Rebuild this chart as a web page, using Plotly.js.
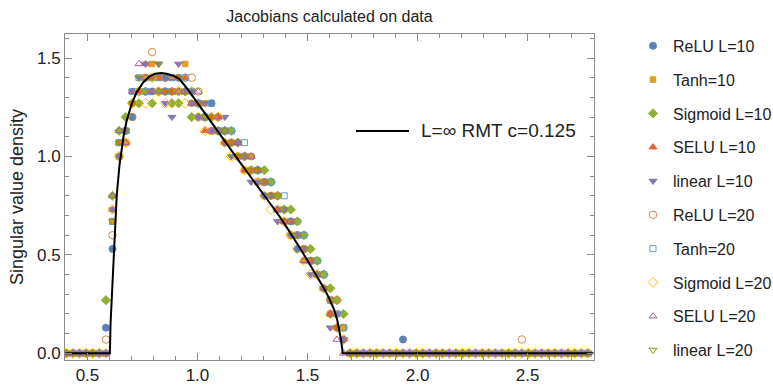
<!DOCTYPE html>
<html><head><meta charset="utf-8">
<script src="https://cdn.plot.ly/plotly-3.0.1.min.js"></script>
<style>html,body{margin:0;padding:0;background:#fff}#chart{width:773px;height:385px}</style>
</head><body><div id="chart"></div>
<script>
// bin centres (x) shared by all histogram series
const binX = [
0.404,0.434,0.464,0.494,0.524,0.554,0.584,0.614,0.644,0.674,
0.704,0.734,0.764,0.794,0.824,0.854,0.884,0.914,0.944,0.974,
1.004,1.034,1.064,1.094,1.124,1.154,1.184,1.214,1.244,1.274,
1.304,1.334,1.364,1.394,1.424,1.454,1.484,1.514,1.544,1.574,
1.604,1.634,1.664,1.694,1.724,1.754,1.784,1.814,1.844,1.874,
1.904,1.934,1.964,1.994,2.024,2.054,2.084,2.114,2.144,2.174,
2.204,2.234,2.264,2.294,2.324,2.354,2.384,2.414,2.444,2.474,
2.504,2.534,2.564,2.594,2.624,2.654,2.684,2.714,2.744,2.774];

const reluL10 = [0,0,0,0,0,0,
0.13,0.53,1,1.13,1.2,1.33,1.33,1.33,1.33,1.4,1.33,1.4,1.33,1.33,1.2,1.2,1.27,1.2,1.07,1.07,1,1,1,0.93,0.8,0.87,0.73,0.73,0.67,0.53,0.53,0.47,0.4,0.33,0.2,0.13,0.07,
0,0,0,0,0,0,0,0,0.07,0,0,0,0,0,0,0,0,0,0,0,0,0,0,0,0,0,0,0,0,0,0,0,0,0,0,0,0];
const tanhL10 = [0,0,0,0,0,0,
0,0.67,1.07,1.07,1.27,1.33,1.4,1.47,1.4,1.33,1.4,1.33,1.47,1.27,1.27,1.27,1.13,1.2,1.13,1.07,1.07,0.93,1,0.87,0.87,0.8,0.73,0.67,0.6,0.67,0.47,0.47,0.47,0.4,0.27,0.2,0.13,
0,0,0,0,0,0,0,0,0,0,0,0,0,0,0,0,0,0,0,0,0,0,0,0,0,0,0,0,0,0,0,0,0,0,0,0,0];
const sigmoidL10 = [0,0,0,0,0,0,
0.27,0.8,1.13,1.2,1.27,1.27,1.33,1.27,1.33,1.33,1.27,1.27,1.33,1.2,1.27,1.2,1.2,1.13,1.13,1.13,1.07,1,0.93,0.93,0.93,0.87,0.8,0.73,0.73,0.67,0.6,0.53,0.47,0.4,0.33,0.27,0.2,
0,0,0,0,0,0,0,0,0,0,0,0,0,0,0,0,0,0,0,0,0,0,0,0,0,0,0,0,0,0,0,0,0,0,0,0,0];
const seluL10 = [0,0,0,0,0,0,
0,0.73,1.07,1.13,1.27,1.33,1.47,1.4,1.4,1.33,1.33,1.4,1.4,1.27,1.27,1.13,1.2,1.2,1.07,1.07,1,0.93,0.93,0.93,0.87,0.8,0.73,0.67,0.67,0.6,0.53,0.47,0.4,0.33,0.2,0.13,0.07,
0,0,0,0,0,0,0,0,0,0,0,0,0,0,0,0,0,0,0,0,0,0,0,0,0,0,0,0,0,0,0,0,0,0,0,0,0];
const linearL10 = [0,0,0,0,0,0,
0,0.73,1,1.13,1.33,1.4,1.47,1.33,1.47,1.27,1.2,1.47,1.33,1.27,1.2,1.27,1.13,1.13,1.2,1,1.07,1,0.87,0.87,0.8,0.8,0.67,0.73,0.6,0.6,0.53,0.4,0.4,0.33,0.13,0.2,0.07,
0,0,0,0,0,0,0,0,0,0,0,0,0,0,0,0,0,0,0,0,0,0,0,0,0,0,0,0,0,0,0,0,0,0,0,0,0];
const reluL20 = [0,0,0,0,0,0,
0.07,0.6,1,1.07,1.2,1.33,1.4,1.53,1.33,1.4,1.33,1.33,1.4,1.4,1.33,1.2,1.13,1.13,1.13,1.07,1,1,0.93,0.87,0.87,0.8,0.8,0.67,0.6,0.6,0.53,0.47,0.4,0.4,0.27,0.27,0.13,
0,0,0,0,0,0,0,0,0,0,0,0,0,0,0,0,0,0,0,0,0,0,0,0,0,0,0.07,0,0,0,0,0,0,0,0,0,0];
const tanhL20 = [0,0,0,0,0,0,
0,0.67,1.07,1.13,1.33,1.4,1.33,1.4,1.4,1.33,1.4,1.33,1.4,1.33,1.27,1.2,1.27,1.13,1.13,1.13,1,1.07,0.93,0.93,0.87,0.87,0.73,0.8,0.67,0.6,0.6,0.47,0.47,0.4,0.27,0.2,0.13,
0,0,0,0,0,0,0,0,0,0,0,0,0,0,0,0,0,0,0,0,0,0,0,0,0,0,0,0,0,0,0,0,0,0,0,0,0];
const sigmoidL20 = [0,0,0,0,0,0,
0,0.73,1,1.07,1.27,1.33,1.27,1.4,1.33,1.27,1.27,1.33,1.27,1.33,1.2,1.13,1.2,1.2,1.07,1,1,0.93,0.93,0.87,0.8,0.73,0.73,0.67,0.6,0.53,0.47,0.4,0.4,0.33,0.2,0.13,0.07,
0,0,0,0,0,0,0,0,0,0,0,0,0,0,0,0,0,0,0,0,0,0,0,0,0,0,0,0,0,0,0,0,0,0,0,0,0];
const seluL20 = [0,0,0,0,0,0,
0,0.8,1.13,1.07,1.33,1.47,1.4,1.33,1.33,1.33,1.4,1.33,1.33,1.27,1.33,1.2,1.13,1.2,1.13,1.07,1.07,1,1,0.93,0.87,0.8,0.73,0.67,0.67,0.6,0.47,0.47,0.4,0.33,0.2,0.07,0,
0,0,0,0,0,0,0,0,0,0,0,0,0,0,0,0,0,0,0,0,0,0,0,0,0,0,0,0,0,0,0,0,0,0,0,0,0];
const linearL20 = [0,0,0,0,0,0,
0,0.67,1.07,1.13,1.27,1.4,1.33,1.4,1.47,1.33,1.33,1.4,1.33,1.33,1.27,1.2,1.2,1.13,1.13,1.07,1,1,0.93,0.93,0.87,0.8,0.8,0.73,0.67,0.6,0.53,0.47,0.4,0.33,0.27,0.13,0.07,
0,0,0,0,0,0,0,0,0,0,0,0,0,0,0,0,0,0,0,0,0,0,0,0,0,0,0,0,0,0,0,0,0,0,0,0,0];

const seriesNames = ['ReLU L=10','Tanh=10','Sigmoid L=10','SELU L=10','linear L=10',
                     'ReLU L=20','Tanh=20','Sigmoid L=20','SELU L=20','linear L=20'];
const seriesValues = [reluL10, tanhL10, sigmoidL10, seluL10, linearL10,
                      reluL20, tanhL20, sigmoidL20, seluL20, linearL20];

// L = infinity RMT curve
const rmtX = [0.4,0.602,0.605,0.61,0.617,0.625,0.633,0.645,0.655,0.665,0.678,0.69,0.701,0.724,0.754,0.78,0.807,0.835,0.86,0.89,0.917,0.95,0.98,1.01,1.04,1.07,1.1,1.13,1.16,1.19,1.22,1.25,1.28,1.31,1.34,1.37,1.4,1.43,1.46,1.49,1.52,1.55,1.58,1.6,1.62,1.635,1.645,1.652,1.657,1.66,2.8];
const rmtY = [0,0,0.15,0.27,0.47,0.64,0.8,0.95,1.04,1.11,1.18,1.23,1.267,1.327,1.377,1.405,1.42,1.424,1.42,1.41,1.394,1.35,1.305,1.258,1.21,1.163,1.115,1.067,1.02,0.975,0.93,0.885,0.84,0.795,0.75,0.7,0.65,0.6,0.545,0.49,0.435,0.38,0.32,0.275,0.225,0.17,0.117,0.07,0.03,0,0];
const rmtLabel = 'L=\u221E RMT c=0.125';

// styles
const styles = [
  {symbol:'circle', color:'#5E81B5', size:7},
  {symbol:'square', color:'#E19C24', size:5.5},
  {symbol:'diamond', color:'#8FB032', size:7},
  {symbol:'triangle-up', color:'#EB6235', size:7},
  {symbol:'triangle-down', color:'#8778B3', size:7},
  {symbol:'circle-open', color:'#D9883F', size:7.5},
  {symbol:'square-open', color:'#5D9EC7', size:6},
  {symbol:'diamond-open', color:'#FFBF00', size:7.5},
  {symbol:'triangle-up-open', color:'#A5609D', size:7},
  {symbol:'triangle-down-open', color:'#929600', size:7}
];

const traces = seriesNames.map((name, i) => ({
  type:'scatter', mode:'markers', name:name, x:binX, y:seriesValues[i],
  legendgroup:'g'+i,
  marker:{symbol:styles[i].symbol, color:styles[i].color, size:styles[i].size,
          line:{width:1, color:styles[i].color}}
}));
traces.push({type:'scatter', mode:'lines', x:rmtX, y:rmtY, name:rmtLabel,
  showlegend:false, line:{color:'#000', width:2}});

const axisCommon = {
  showline:true, linecolor:'#8c8c8c', linewidth:1, mirror:'ticks',
  ticks:'inside', tickcolor:'#8c8c8c', ticklen:7, showgrid:false, zeroline:false,
  tickfont:{family:'Liberation Sans, Arial, sans-serif', size:17, color:'#222'}
};

const layout = {
  width:773, height:385,
  margin:{l:65, r:179, t:34, b:25, autoexpand:false},
  paper_bgcolor:'#fff', plot_bgcolor:'#fff',
  font:{family:'Liberation Sans, Arial, sans-serif', color:'#222'},
  title:{text:'Jacobians calculated on data', font:{size:16, color:'#222'},
         x:0.5, xref:'paper', y:0.958, yanchor:'middle'},
  xaxis:Object.assign({}, axisCommon, {range:[0.398,2.802], tick0:0.5, dtick:0.5, tickformat:'.1f',
         ticklabelstandoff:0,
         minor:{ticks:'inside', dtick:0.1, tick0:0.5, ticklen:4, tickcolor:'#8c8c8c'}}),
  yaxis:Object.assign({}, axisCommon, {range:[-0.034,1.622], tick0:0, dtick:0.5, tickformat:'.1f',
         minor:{ticks:'inside', dtick:0.1, tick0:0, ticklen:4, tickcolor:'#8c8c8c'},
         title:{text:'Singular value density', font:{size:18, color:'#222'}, standoff:8}}),
  showlegend:true,
  legend:{xref:'container', yref:'container', x:0.8189, xanchor:'left', y:0.925, yanchor:'top',
          traceorder:'grouped', tracegroupgap:10, maxheight:380,
          font:{size:16, color:'#222'}, bgcolor:'rgba(0,0,0,0)'},
  shapes:[{type:'line', xref:'paper', yref:'paper', x0:0.5501, x1:0.6503, y0:0.7025, y1:0.7025,
           line:{color:'#000', width:2}}],
  annotations:[{xref:'paper', yref:'paper', x:0.6692, y:0.7025, xanchor:'left', yanchor:'middle',
           text:rmtLabel, showarrow:false, font:{size:19, color:'#222'}}]
};

Plotly.newPlot('chart', traces, layout, {staticPlot:true, displayModeBar:false});
</script></body></html>
